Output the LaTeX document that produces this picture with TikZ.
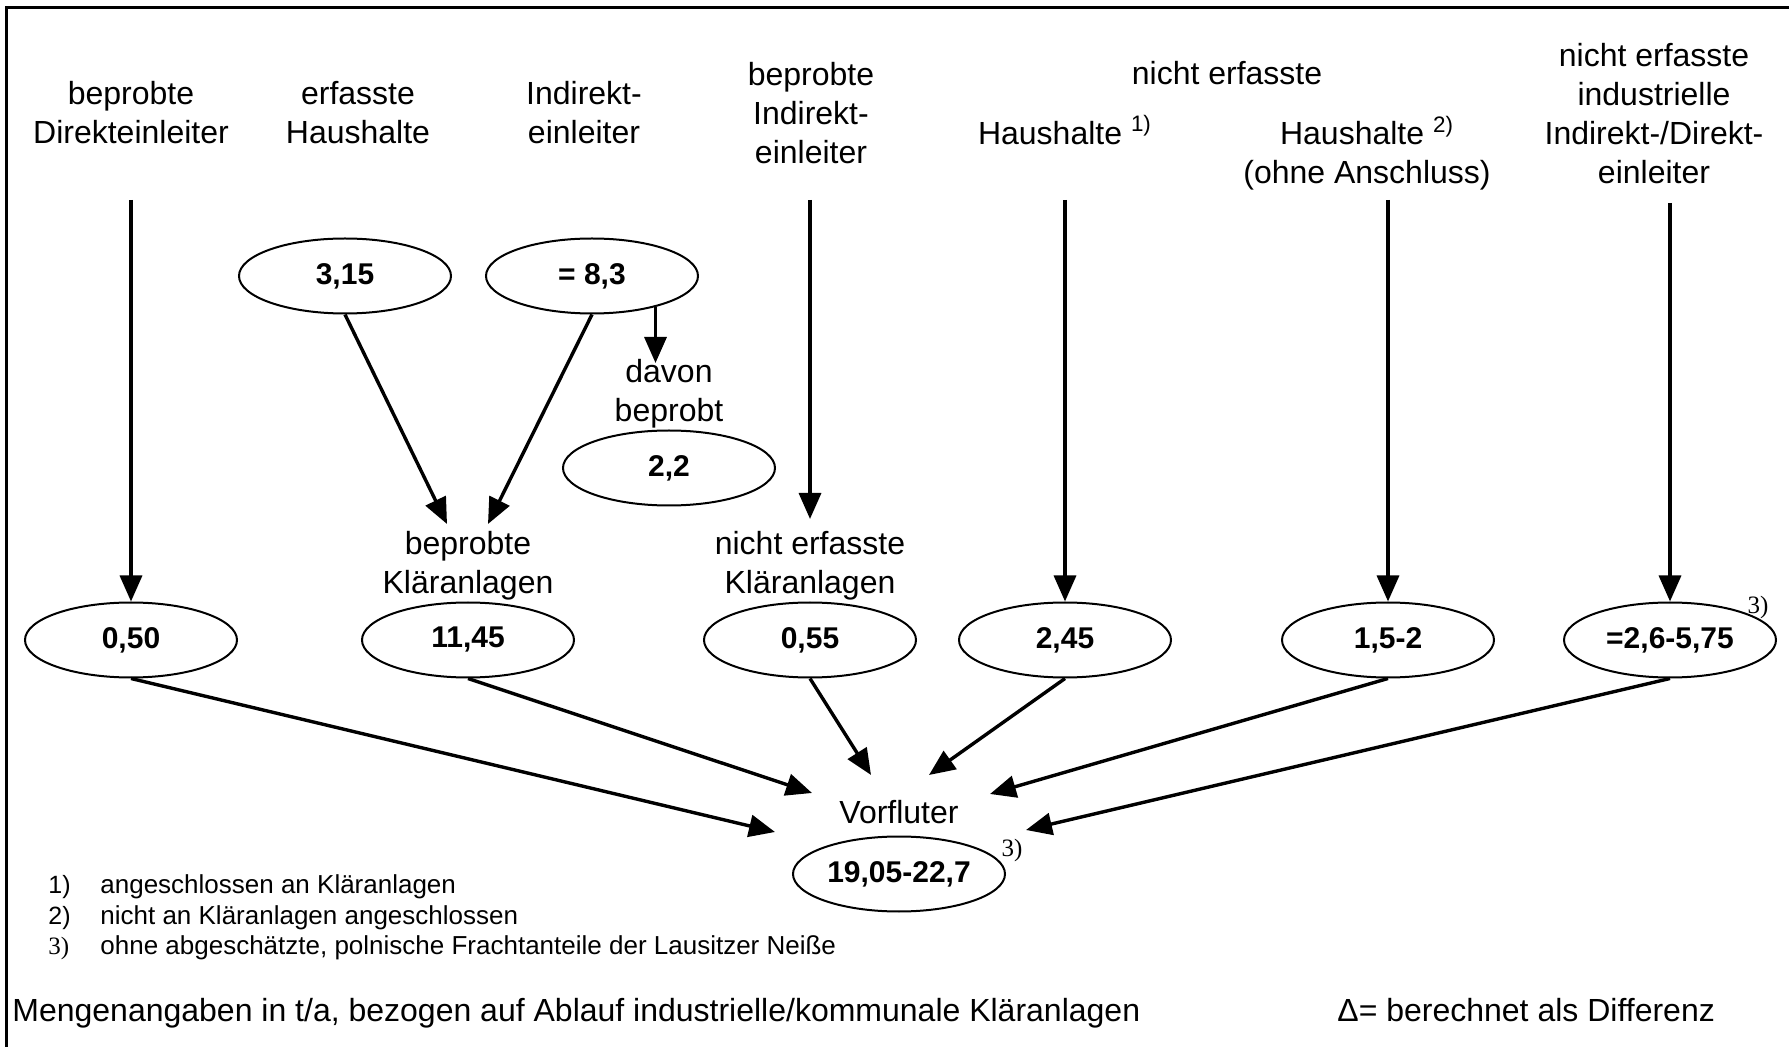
\documentclass[tikz,border=0pt]{standalone}
\usepackage{fontspec}
\setmainfont{Liberation Sans}
\newfontfamily\notefont{Liberation Serif}
\usetikzlibrary{shapes.geometric,arrows.meta}
\begin{document}
\begin{tikzpicture}[x=0.5pt,y=-0.5pt,
  lbl/.style={font=\fontsize{16}{19.5}\selectfont, align=center, inner sep=0pt},
  val/.style={ellipse, draw, line width=1pt, minimum width=106pt, minimum height=37.5pt,
    inner sep=0pt, font=\bfseries\fontsize{15}{17}\selectfont},
  flow/.style={line width=1.7pt, -{Triangle[length=13pt,width=11pt]}},
  note/.style={font=\fontsize{13}{15}\selectfont, anchor=base west, inner sep=0pt},
  ref/.style={font=\notefont\fontsize{12.5}{14}\selectfont, inner sep=0pt}
]
\useasboundingbox (0,0) rectangle (1789,1047);
% frame
\draw[line width=1.5pt] (6,1047) -- (6,8) -- (1789,8);

% source labels
\node[lbl] (lA) at (131,113) {beprobte\\Direkteinleiter};
\node[lbl] (lB) at (358,113) {erfasste\\Haushalte};
\node[lbl] (lC) at (584,113) {Indirekt-\\einleiter};
\node[lbl] (lD) at (811,113) {beprobte\\Indirekt-\\einleiter};
\node[lbl] (lN) at (1227,73) {nicht erfasste};
\node[lbl] (lE) at (1065,130) {Haushalte \textsuperscript{1)}};
\node[lbl] (lF) at (1367,153) {Haushalte \textsuperscript{2)}\\(ohne Anschluss)};
\node[lbl] (lG) at (1654,114) {nicht erfasste\\industrielle\\Indirekt-/Direkt-\\einleiter};

% load values
\node[val] (eH) at (345,276) {3,15};
\node[val] (eI) at (592,276) {= 8,3};
\node[lbl] (tDv) at (669,394) {davon\\beprobt};
\node[val] (eD) at (669,468) {2,2};

\node[lbl] (tKb) at (468,566) {beprobte\\Kläranlagen};
\node[lbl] (tKn) at (810,566) {nicht erfasste\\Kläranlagen};

\node[val] (e1) at (131,640) {0,50};
\node[val] (e2) at (468,640) {11,45};
\node[val] (e3) at (810,640) {0,55};
\node[val] (e4) at (1065,640) {2,45};
\node[val] (e5) at (1388,640) {1,5-2};
\node[val] (e6) at (1670,640) {=2,6-5,75};
\node[ref] (r6) at (1758,607) {3)};

\node[lbl] (tV) at (899,812) {Vorfluter};
\node[val] (eV) at (899,874) {19,05-22,7};
\node[ref] (rV) at (1012,850) {3)};

% arrow ends
\coordinate (sA) at (131,200);
\coordinate (sD) at (810,200);
\coordinate (tD) at (810,519);
\coordinate (sE) at (1065,200);
\coordinate (sF) at (1388,200);
\coordinate (sG) at (1670,203);
\coordinate (kb1) at (447,524);
\coordinate (kb2) at (488,524);
\coordinate (dv) at (653,363);
\coordinate (v1) at (775,832);
\coordinate (v2) at (812,793);
\coordinate (v3) at (871,775);
\coordinate (v4) at (929,775);
\coordinate (v5) at (990,794);
\coordinate (v6) at (1026,830);

% flows from the sources
\draw[flow] (sA) -- (e1);
\draw[flow] (sD) -- (tD);
\draw[flow] (sE) -- (e4);
\draw[flow] (sF) -- (e5);
\draw[flow] (sG) -- (e6);
\draw[flow] (eH.south) -- (kb1);
\draw[flow] (eI.south) -- (kb2);
\draw[flow] (eI.-26.7) -- (eI.-26.7 |- dv);

% flows into the receiving water
\draw[flow] (e1.south) -- (v1);
\draw[flow] (e2.south) -- (v2);
\draw[flow] (e3.south) -- (v3);
\draw[flow] (e4.south) -- (v4);
\draw[flow] (e5.south) -- (v5);
\draw[flow] (e6.south) -- (v6);

% footnotes
\node[ref, anchor=base west] (f1n) at (48,893) {\fontspec{Liberation Sans}1)};
\node[note] (f1) at (100,893) {angeschlossen an Kläranlagen};
\node[ref, anchor=base west] (f2n) at (48,924) {\fontspec{Liberation Sans}2)};
\node[note] (f2) at (100,924) {nicht an Kläranlagen angeschlossen};
\node[ref, anchor=base west] (f3n) at (48,954) {3)};
\node[note] (f3) at (100,954) {ohne abgeschätzte, polnische Frachtanteile der Lausitzer Neiße};

\node[lbl, anchor=base west] (unit) at (12,1021) {Mengenangaben in t/a, bezogen auf Ablauf industrielle/kommunale Kläranlagen};
\node[lbl, anchor=base west] (delta) at (1337,1021) {Δ= berechnet als Differenz};
\end{tikzpicture}
\end{document}
